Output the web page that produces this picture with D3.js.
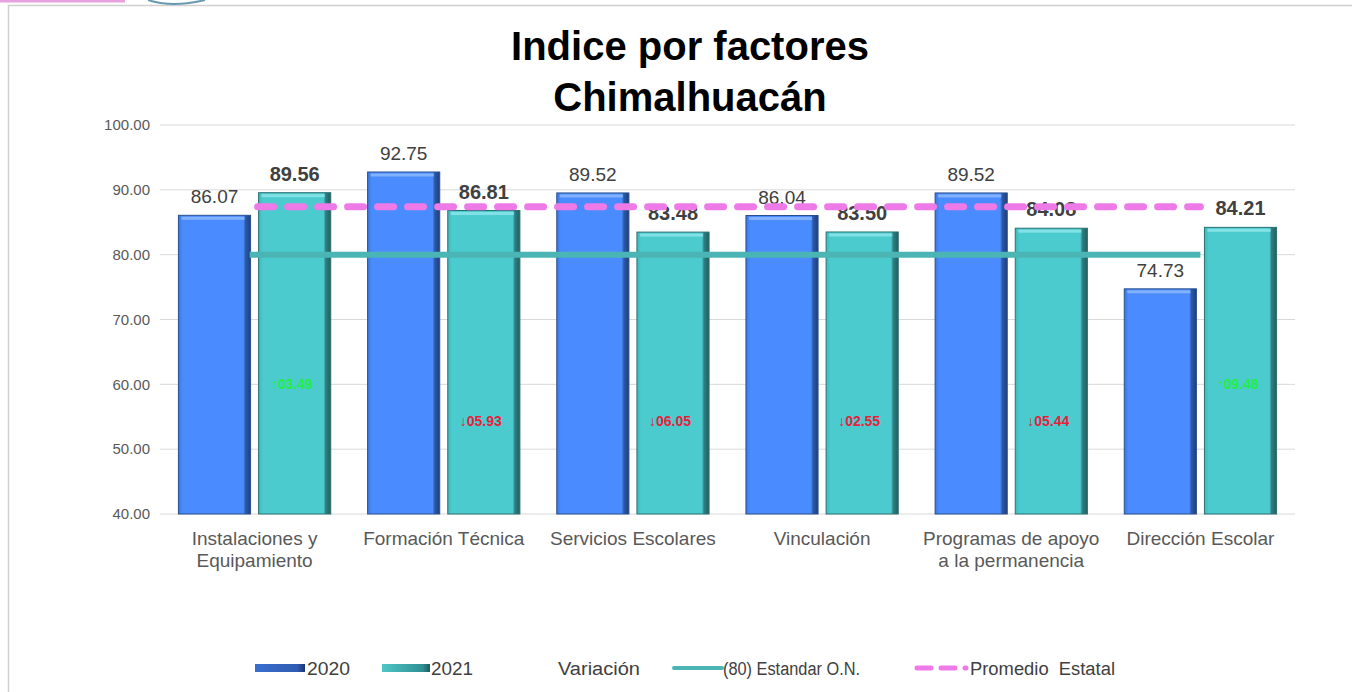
<!DOCTYPE html>
<html><head><meta charset="utf-8">
<script src="https://cdn.jsdelivr.net/npm/d3@7"></script>
<style>body{margin:0;background:#fff;}svg{display:block;font-family:"Liberation Sans",Arial,sans-serif;}</style>
</head><body><svg id="c" width="1352" height="692"></svg>
<script>
const categories = [["Instalaciones y","Equipamiento"],["Formación Técnica"],["Servicios Escolares"],["Vinculación"],["Programas de apoyo","a la permanencia"],["Dirección Escolar"]];
const values2020 = [86.07, 92.75, 89.52, 86.04, 89.52, 74.73];
const values2021 = [89.56, 86.81, 83.48, 83.50, 84.08, 84.21];
const variacion = [3.49, -5.93, -6.05, -2.55, -5.44, 9.48];
const variacionLabels = ["↑03.49","↓05.93","↓06.05","↓02.55","↓05.44","↑09.48"];
const estandar = 80;
const promedioEstatal = 87.4;
const yTicks = [40,50,60,70,80,90,100];

const svg = d3.select("#c");
const defs = svg.append("defs");
function grad(id, stops){const g=defs.append("linearGradient").attr("id",id).attr("x1","0").attr("x2","1").attr("y1","0").attr("y2","0");stops.forEach(s=>g.append("stop").attr("offset",s[0]).attr("stop-color",s[1]));}
grad("g20",[["0","#3a78e0"],["0.06","#4a8cff"],["0.9","#4a8cff"],["0.93","#2b5aa8"],["1","#1f3f78"]]);
grad("g21",[["0","#3fb8bb"],["0.06","#4ccbcf"],["0.9","#4ccbcf"],["0.93","#2f7f82"],["1","#235e60"]]);
grad("l20",[["0","#3a6fd0"],["0.85","#2e5cb0"],["1","#1a3570"]]);
grad("l21",[["0","#4fc6c8"],["0.85","#2f8f92"],["1","#1f5a5c"]]);

// frame
svg.append("rect").attr("x",8.5).attr("y",5.5).attr("width",1360).attr("height",700).attr("fill","none").attr("stroke","#d0d0d0").attr("stroke-width",1.5);
svg.append("rect").attr("x",0).attr("y",0).attr("width",125).attr("height",2.5).attr("fill","#e9a0e0");
svg.append("path").attr("d","M148,0 Q172,8 205,0").attr("fill","none").attr("stroke","#6a9ab0").attr("stroke-width",2);

const x0 = d3.scaleBand().domain(d3.range(6)).range([160,1295]);
const x1 = d3.scaleBand().domain([0,1]).range([0,x0.bandwidth()]).paddingInner(0.1).paddingOuter(0.23);
const y = d3.scaleLinear().domain([40,100]).range([514,125]);

// gridlines
svg.append("g").selectAll("line").data(yTicks).join("line")
 .attr("x1",160).attr("x2",1295).attr("y1",d=>y(d)).attr("y2",d=>y(d))
 .attr("stroke","#d9d9d9").attr("stroke-width",1);
const yAxis = svg.append("g").attr("transform","translate(160,0)").call(d3.axisLeft(y).tickValues(yTicks).tickFormat(d3.format(".2f")).tickSize(0).tickPadding(10));
yAxis.select(".domain").remove();
yAxis.selectAll("text").attr("font-size",15).attr("fill","#595959").attr("font-family","Liberation Sans, Arial");

// bars
const groups = svg.append("g").selectAll("g").data(d3.range(6)).join("g").attr("transform",i=>`translate(${x0(i)},0)`);
[[values2020,"g20","#8fbaff"],[values2021,"g21","#8fe6e8"]].forEach(([vals,g,top],k)=>{
  groups.append("rect").attr("x",x1(k)).attr("width",x1.bandwidth()).attr("y",i=>y(vals[i])).attr("height",i=>y(40)-y(vals[i])).attr("fill",`url(#${g})`).attr("stroke",k?"#2d7072":"#2a4f90").attr("stroke-width",1);
  groups.append("rect").attr("x",x1(k)+3).attr("width",x1.bandwidth()-9).attr("y",i=>y(vals[i])+1.5).attr("height",3).attr("fill",top).attr("opacity",0.8);
});

// lines
const lx = [x0(0)+x0.bandwidth()/2, x0(5)+x0.bandwidth()/2];
svg.append("line").attr("x1",lx[0]-5).attr("x2",lx[1]).attr("y1",y(estandar)).attr("y2",y(estandar)).attr("stroke","#4bb5b5").attr("stroke-width",6);
svg.append("line").attr("x1",lx[0]+3).attr("x2",lx[1]).attr("y1",y(promedioEstatal)).attr("y2",y(promedioEstatal)).attr("stroke","#ee7ae8").attr("stroke-width",7).attr("stroke-dasharray","16,14").attr("stroke-linecap","round");

// value labels
groups.append("text").attr("x",x1(0)+x1.bandwidth()/2).attr("y",i=>y(values2020[i])-12).attr("text-anchor","middle").attr("font-size",19).attr("fill","#404040").text(i=>values2020[i].toFixed(2));
groups.append("text").attr("x",x1(1)+x1.bandwidth()/2).attr("y",i=>y(values2021[i])-12).attr("text-anchor","middle").attr("font-size",20).attr("font-weight","bold").attr("fill","#404040").text(i=>values2021[i].toFixed(2));

// variation labels
groups.append("text").attr("x",x1(1)+x1.bandwidth()/2-3).attr("y",i=>variacion[i]>0?y(60)+5:y(54.3)+5).attr("text-anchor","middle").attr("font-size",14).attr("font-weight","bold").attr("fill",i=>variacion[i]>0?"#22ee44":"#e8203c").text(i=>variacionLabels[i]);

// category labels
groups.append("text").attr("x",x0.bandwidth()/2).attr("y",545).attr("text-anchor","middle").attr("font-size",19).attr("fill","#595959")
 .selectAll("tspan").data(i=>categories[i]).join("tspan").attr("x",x0.bandwidth()/2).attr("dy",(d,j)=>j?22:0).text(d=>d);

// title
svg.append("text").attr("x",690).attr("y",60).attr("text-anchor","middle").attr("font-size",40).attr("font-weight","bold").attr("fill","#000").text("Indice por factores");
svg.append("text").attr("x",690).attr("y",111).attr("text-anchor","middle").attr("font-size",40).attr("font-weight","bold").attr("fill","#000").text("Chimalhuacán");

// legend
const lg = svg.append("g").attr("font-size",18).attr("fill","#404040");
function lt(x,w,t){lg.append("text").attr("x",x).attr("y",675).attr("textLength",w).attr("lengthAdjust","spacingAndGlyphs").attr("xml:space","preserve").text(t);}
lg.append("rect").attr("x",255).attr("y",664).attr("width",50).attr("height",8).attr("fill","url(#l20)");
lt(307,43,"2020");
lg.append("rect").attr("x",382).attr("y",664).attr("width",48).attr("height",8).attr("fill","url(#l21)");
lt(431,42,"2021");
lt(558,82,"Variación");
lg.append("line").attr("x1",674).attr("x2",722).attr("y1",668).attr("y2",668).attr("stroke","#4bb5b5").attr("stroke-width",4).attr("stroke-linecap","round");
lt(723,137,"(80) Estandar O.N.");
lg.append("line").attr("x1",917).attr("x2",966).attr("y1",668).attr("y2",668).attr("stroke","#ee7ae8").attr("stroke-width",5).attr("stroke-dasharray","14,10").attr("stroke-linecap","round");
lt(970,145,"Promedio  Estatal");
</script></body></html>
